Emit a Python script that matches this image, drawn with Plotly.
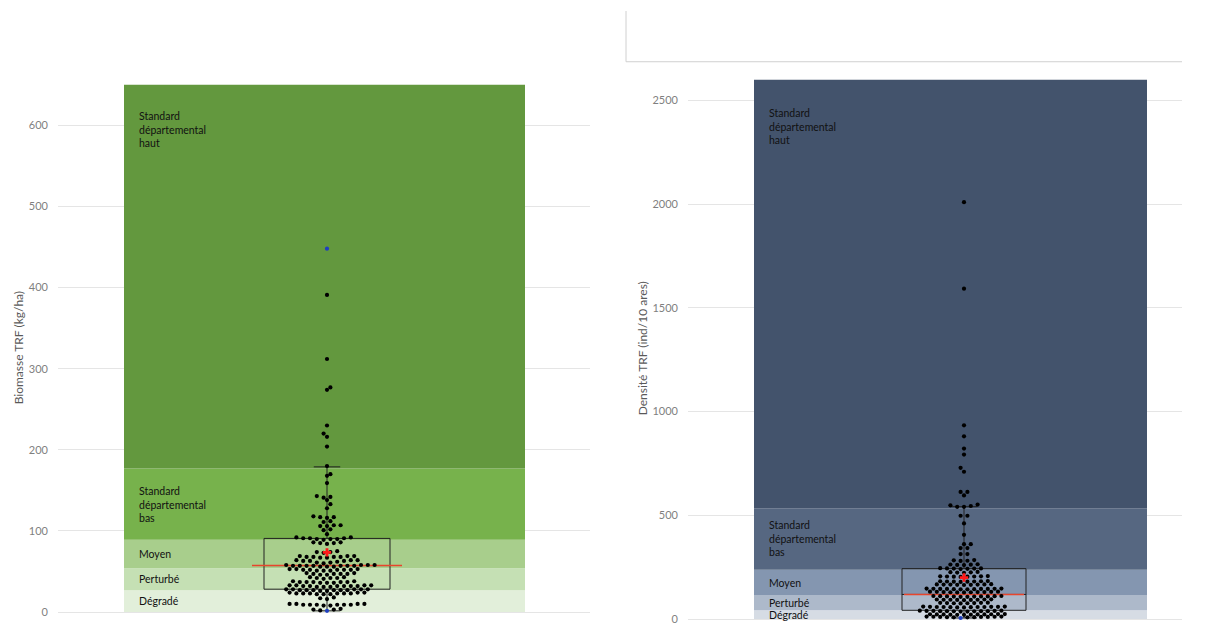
import plotly.graph_objects as go

# ---------------- data ----------------
band_names = ["Dégradé", "Perturbé", "Moyen", "Standard<br>départemental<br>bas", "Standard<br>départemental<br>haut"]

bio_band_edges = [0, 27, 54, 89, 177, 650]
bio_band_colors = ["#E2EFDA", "#C5E0B4", "#A8CE8C", "#77B24C", "#63983E"]

dens_band_edges = [0, 42, 114, 238, 534, 2600]
dens_band_colors = ["#D6DCE4", "#ADB9CA", "#8496B0", "#566781", "#43536C"]

bio_values = [
    391, 312, 277, 274, 230, 220, 216, 204, 180, 170, 168, 159, 143, 142, 141, 138, 133, 128,
    118, 117, 117, 116, 112, 111, 107, 107, 106, 106, 102, 101, 96,
    92, 91, 91, 90, 90, 89, 92, 91, 90,
    86, 85, 85, 84, 86,
    75, 74, 73, 74,
    69, 68, 68, 67, 69, 68, 67, 69, 68,
    64, 63, 63, 64, 62, 63, 64,
    61, 60, 61,
    58, 57, 57, 58, 57, 56, 57, 58, 57, 56, 58, 57, 57, 56,
    53, 52, 52, 51, 52, 53, 51, 52, 52, 53, 51,
    47, 48, 47, 46, 47, 48, 46, 47,
    42, 43, 42, 41, 42, 43,
    37, 36, 37, 38, 37, 36, 37, 38, 36, 37,
    32, 33, 32, 31, 32, 33, 32, 31, 33, 32, 32, 31, 33,
    27, 28, 27, 28, 26, 27, 28, 27, 26, 28, 27, 27, 28,
    23, 24, 23, 22, 23, 24, 23, 22, 24, 23, 23, 22,
    17, 16, 18,
    9, 10, 9, 8, 10, 9, 9, 10, 8, 9, 10, 9,
    3, 2, 3, 4,
]
bio_highlight = [448, 1.5]

dens_values = [
    2010, 1593, 934, 881, 822, 793, 729, 710, 613, 613, 596,
    552, 545, 541, 541, 548, 498, 498, 461, 406, 361, 361, 342, 342, 313, 313,
    284, 281, 283, 280,
    263, 261, 262, 260, 264,
    244, 242, 243, 245, 241, 243, 244,
    226, 224, 225, 223, 227,
    206, 204, 205, 207, 203, 205, 206, 204,
    182, 180, 181, 183, 179, 181, 182, 180,
    167, 165, 166, 168, 164, 166, 167, 165, 166,
    146, 144, 145, 147, 143, 145, 146, 144, 145, 147, 143, 145,
    131, 129, 130, 132, 128, 130, 131, 129, 130, 132, 128,
    110, 108, 109, 111, 107, 109, 110, 108, 109, 111, 107,
    94, 92, 93, 95, 91, 93, 94, 92, 93,
    78, 76, 77, 79, 75, 77, 78, 76,
    59, 57, 58, 60, 56, 58, 59, 57, 58, 60, 56, 58, 59,
    39, 37, 38, 40, 36, 38, 39, 37, 38, 40, 36, 38, 39,
    23, 21, 22, 24, 20, 22, 23, 21, 22, 24, 20, 22,
    11, 9, 10, 12, 8, 10, 11, 9, 10, 12, 8,
]
dens_highlight = [5]

# box statistics: [lowerfence, q1, median, q3, upperfence, mean]
bio_stats = [1.5, 28.2, 57.3, 90.8, 179, 73.6]
dens_stats = [5, 42, 118.5, 243, 542, 200]

# ---------------- layout constants (page pixels) ----------------
OFF = 8                      # default body margin of the html page
FW, FH = 1212 - 2 * OFF, 634 - 2 * OFF


def px(p):
    return (p - OFF) / FW


def py(p):
    return (FH - (p - OFF)) / FH


L_YRANGE = [-3, 660]
R_YRANGE = [-12, 2650]
L_ZERO, L_SCALE = 615, 0.815      # page px of value 0, px per unit
R_ZERO, R_SCALE = 622, 0.2084

L_XDOM = [px(58), px(590)]
R_XDOM = [px(688), px(1182)]
L_YDOM = [max(0.0, py(L_ZERO - L_SCALE * L_YRANGE[0])), py(L_ZERO - L_SCALE * L_YRANGE[1])]
R_YDOM = [max(0.0, py(R_ZERO - R_SCALE * R_YRANGE[0])), py(R_ZERO - R_SCALE * R_YRANGE[1])]

L_CENTER, R_CENTER = 269, 276
L_BAND_X, R_BAND_X = (66, 467), (66, 459)
L_BOXW, R_BOXW = 126, 124
L_MED_HALF, R_MED_HALF = 75, 60
DX = 6.8          # horizontal spacing of the swarm rows (px)
GAP = 1.2         # vertical gap (px) that starts a new row
NEAR = 5.0        # rows closer than this are staggered
DOT_SIZE = 4.2


def swarm(vals, hl_flags, pxu):
    order = sorted(range(len(vals)), key=lambda i: vals[i])
    rows, cur = [], [order[0]]
    for a, b in zip(order, order[1:]):
        if (vals[b] - vals[a]) * pxu > GAP:
            rows.append(cur)
            cur = [b]
        else:
            cur.append(b)
    rows.append(cur)
    xs = [0.0] * len(vals)
    prev_y, prev_phase, sign = None, None, 1
    for row in rows:
        n = len(row)
        y = sum(vals[i] for i in row) / n * pxu
        shift = 0.0
        phase = ((n - 1) / 2.0) % 1.0
        if prev_y is not None and abs(y - prev_y) < NEAR and abs(phase - prev_phase) < 1e-6:
            shift = sign * DX / 2
            sign = -sign
            phase = (phase + 0.5) % 1.0
        slots = sorted([(j - (n - 1) / 2.0) * DX + shift for j in range(n)], key=lambda s: (abs(s), s))
        members = sorted(row, key=lambda i: (not hl_flags[i], vals[i]))
        for i, s in zip(members, slots):
            xs[i] = s
        prev_y, prev_phase = y, phase
    return xs


fig = go.Figure()
label_font = dict(family="Lato", size=10.5, color="#111111")


def add_panel(vals, hl, stats, edges, colors, xref, yref, center, band_x, boxw, medhalf, pxu, haut_shift):
    xa = "x" if xref == "x" else "x2"
    ya = "y" if yref == "y" else "y2"
    for k in range(len(colors)):
        fig.add_shape(type="rect", xref=xref, yref=yref, x0=band_x[0], x1=band_x[1],
                      y0=edges[k], y1=edges[k + 1], fillcolor=colors[k], line_width=0, layer="between")
        if k == len(colors) - 1:
            fig.add_annotation(xref=xref, yref=yref, x=band_x[0] + 13, y=edges[k + 1], yshift=haut_shift,
                               text=band_names[k], showarrow=False, xanchor="left", yanchor="top", align="left",
                               font=label_font)
        else:
            fig.add_annotation(xref=xref, yref=yref, x=band_x[0] + 13, y=(edges[k] + edges[k + 1]) / 2,
                               text=band_names[k], showarrow=False, xanchor="left", yanchor="middle", align="left",
                               font=label_font)
    lo, q1, med, q3, hi, mean = stats
    fig.add_trace(go.Box(x=[center], q1=[q1], median=[med], q3=[q3], lowerfence=[lo], upperfence=[hi],
                         width=boxw, whiskerwidth=0.21, line=dict(color="#222222", width=1),
                         fillcolor="rgba(0,0,0,0)", boxpoints=False, hoverinfo="skip",
                         xaxis=xa, yaxis=ya, showlegend=False))
    fig.add_trace(go.Scatter(x=[center - medhalf, center + medhalf], y=[med, med], mode="lines",
                             line=dict(color="#E8452C", width=1.5), xaxis=xa, yaxis=ya,
                             showlegend=False, hoverinfo="skip"))
    allv = list(vals) + list(hl)
    flags = [False] * len(vals) + [True] * len(hl)
    offs = swarm(allv, flags, pxu)
    n = len(vals)
    fig.add_trace(go.Scatter(x=[center + o for o in offs[:n]], y=allv[:n], mode="markers",
                             marker=dict(color="#000000", size=DOT_SIZE), xaxis=xa, yaxis=ya,
                             showlegend=False, hoverinfo="skip"))
    fig.add_trace(go.Scatter(x=[center + o for o in offs[n:]], y=allv[n:], mode="markers",
                             marker=dict(color="#1F3FC0", size=DOT_SIZE), xaxis=xa, yaxis=ya,
                             showlegend=False, hoverinfo="skip"))
    fig.add_trace(go.Scatter(x=[center], y=[mean], mode="markers",
                             marker=dict(color="#FF1A1A", size=7, symbol="cross"), xaxis=xa, yaxis=ya,
                             showlegend=False, hoverinfo="skip"))


add_panel(bio_values, bio_highlight, bio_stats, bio_band_edges, bio_band_colors, "x", "y",
          L_CENTER, L_BAND_X, L_BOXW, L_MED_HALF, L_SCALE, -23)
add_panel(dens_values, dens_highlight, dens_stats, dens_band_edges, dens_band_colors, "x2", "y2",
          R_CENTER, R_BAND_X, R_BOXW, R_MED_HALF, R_SCALE, -25)

tickfont = dict(family="Lato", size=11, color="#7F7F7F")
yax_common = dict(showgrid=True, gridcolor="#E5E5E5", gridwidth=1, zeroline=False, ticks="",
                  showline=False, tickfont=tickfont, ticklabelstandoff=9)
xax_common = dict(showgrid=False, zeroline=False, showticklabels=False, showline=False, ticks="")

fig.update_layout(
    width=FW, height=FH, margin=dict(l=0, r=0, t=0, b=0),
    paper_bgcolor="white", plot_bgcolor="white", showlegend=False,
    xaxis=dict(domain=L_XDOM, range=[0, 532], **xax_common),
    yaxis=dict(domain=L_YDOM, range=L_YRANGE, tickvals=[0, 100, 200, 300, 400, 500, 600], **yax_common),
    xaxis2=dict(domain=R_XDOM, range=[0, 494], anchor="y2", **xax_common),
    yaxis2=dict(domain=R_YDOM, range=R_YRANGE, anchor="x2", tickvals=[0, 500, 1000, 1500, 2000, 2500], **yax_common),
)

# axis titles
title_font = dict(family="Lato", size=12, color="#595959")
fig.add_annotation(xref="paper", yref="paper", x=px(18), y=py(350), text="Biomasse TRF (kg/ha)",
                   textangle=-90, showarrow=False, xanchor="center", yanchor="middle", font=title_font)
fig.add_annotation(xref="paper", yref="paper", x=px(642), y=py(350), text="Densité TRF (ind/10 ares)",
                   textangle=-90, showarrow=False, xanchor="center", yanchor="middle", font=title_font)

# frame fragment at the top right
fig.add_shape(type="line", xref="paper", yref="paper", x0=px(626), x1=px(626), y0=py(11), y1=py(62),
              line=dict(color="#D0D0D0", width=1))
fig.add_shape(type="line", xref="paper", yref="paper", x0=px(626), x1=px(1182), y0=py(62), y1=py(62),
              line=dict(color="#D0D0D0", width=1))

fig.write_html("out.html")
